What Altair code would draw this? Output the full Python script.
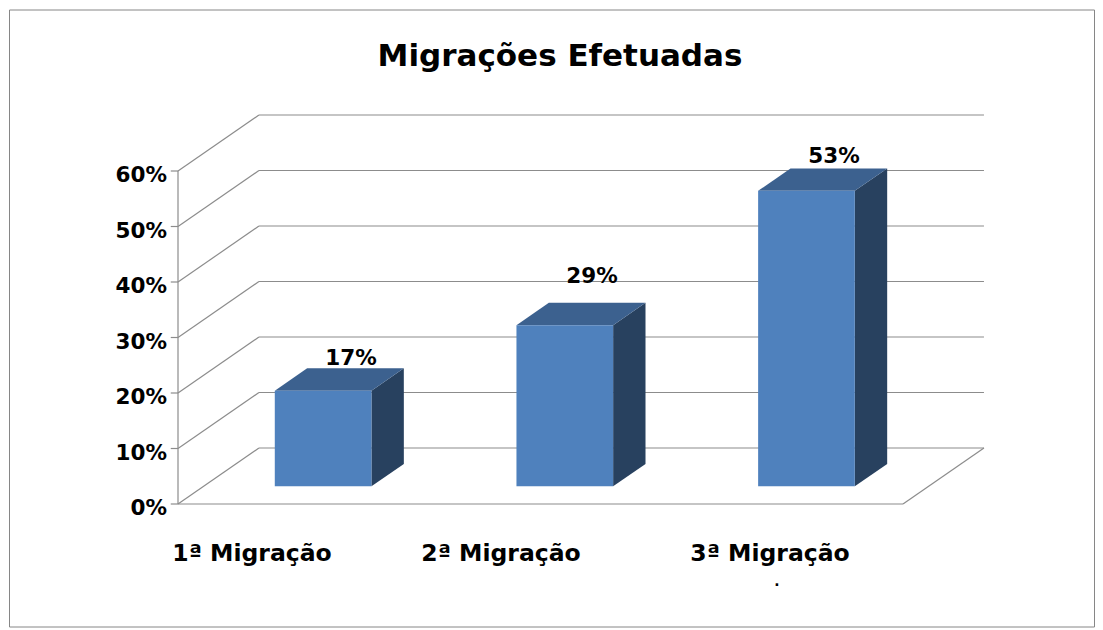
import altair as alt
import pandas as pd

categories = ["1ª Migração", "2ª Migração", "3ª Migração"]
values = [17.4, 29.2, 53.4]
value_labels = ["17%", "29%", "53%"]
ticks = [0, 10, 20, 30, 40, 50, 60]

FONT = "DejaVu Sans"
GRID = "#8c8c8c"
W, H = 1087, 622
PX_X, PX_Y = 241.67, 5.55          # pixels per category / per percent
X_DOM = [-170 / PX_X, 917 / PX_X]
Y_DOM = [-126 / PX_Y, 496 / PX_Y]
DX, DY = 0.335, 10.09              # depth of the 3-D box in data units
B0, B1 = 0.3, 0.7                  # bar depth range

xs = alt.Scale(domain=X_DOM, range=[0, W], nice=False, zero=False)
ys = alt.Scale(domain=Y_DOM, range=[H, 0], nice=False, zero=False)
X = alt.X("x:Q", scale=xs, axis=None)
Y = alt.Y("y:Q", scale=ys, axis=None)

# wire frame
rows = []
g = 0
def seg(a, b, c, d):
    global g
    g += 1
    rows.append(dict(g=g, o=0, x=a, y=b))
    rows.append(dict(g=g, o=1, x=c, y=d))
for t in ticks:
    seg(-0.03, t, 0, t)
    seg(0, t, DX, t + DY)
    seg(DX, t + DY, 3 + DX, t + DY)
seg(0, 0, 0, 60)
seg(0, 0, 3, 0)
seg(3, 0, 3 + DX, DY)
grid = alt.Chart(pd.DataFrame(rows)).mark_line(color=GRID, strokeWidth=1.2).encode(
    x=X, y=Y, detail="g:N", order="o:Q")

# bars
front, top, side = [], [], []
for i, v in enumerate(values):
    l, r = i + 0.3, i + 0.7
    fx0, fx1 = l + B0 * DX, r + B0 * DX
    by, ty = B0 * DY + 0.15, v + B0 * DY
    d = (B1 - B0) * DX
    e = (B1 - B0) * DY
    front.append(dict(x=fx0, x2=fx1, y=by, y2=ty))
    top += [dict(b=i, x=fx0, y=ty, y2=ty),
            dict(b=i, x=fx0 + d, y=ty, y2=ty + e),
            dict(b=i, x=fx1, y=ty, y2=ty + e),
            dict(b=i, x=fx1 + d, y=ty + e, y2=ty + e)]
    side += [dict(b=i, x=fx1, y=by, y2=ty),
             dict(b=i, x=fx1 + d, y=by + e, y2=ty + e)]

front_l = alt.Chart(pd.DataFrame(front)).mark_rect(color="#4f81bd").encode(
    x=X, x2="x2:Q", y=Y, y2="y2:Q")
top_l = alt.Chart(pd.DataFrame(top)).mark_area(color="#3c618f").encode(
    x=X, y=Y, y2="y2:Q", detail="b:N")
side_l = alt.Chart(pd.DataFrame(side)).mark_area(color="#28415f").encode(
    x=X, y=Y, y2="y2:Q", detail="b:N")

# outer frame
frame = alt.Chart(pd.DataFrame([dict(x=X_DOM[0] + 1.5 / PX_X, x2=X_DOM[1] - 0.5 / PX_X,
                                     y=Y_DOM[0] + 3 / PX_Y, y2=Y_DOM[1] - 2 / PX_Y)])).mark_rect(
    fill="white", stroke="#868686", strokeWidth=1).encode(x=X, x2="x2:Q", y=Y, y2="y2:Q")

def text(df, size, align="center"):
    return alt.Chart(pd.DataFrame(df)).mark_text(
        font=FONT, fontWeight="bold", fontSize=size, align=align, baseline="alphabetic", color="black"
    ).encode(x=X, y=Y, text="t:N")

title = text([dict(x=(560 - 178) / PX_X, y=(503 - 65) / PX_Y, t="Migrações Efetuadas")], 31)
tick_l = text([dict(x=-11 / PX_X, y=t - 11 / PX_Y, t=f"{t}%") for t in ticks], 21.5, "right")
cat_l = text([dict(x=(c - 178) / PX_X, y=(503 - 560) / PX_Y, t=n)
              for c, n in zip([252, 501, 770], categories)], 23.5)
val_l = text([dict(x=(c - 178) / PX_X, y=(503 - b) / PX_Y, t=n)
              for c, b, n in zip([351, 592, 834], [364, 282, 162], value_labels)], 21.5)
stray = text([dict(x=(777 - 178) / PX_X, y=(503 - 584.5) / PX_Y, t=".")], 14)

chart = alt.layer(frame, grid, side_l, top_l, front_l, title, tick_l, cat_l, val_l, stray).properties(
    width=W, height=H, padding=0, autosize=alt.AutoSizeParams(type="none"),
    background="white"
).configure_view(stroke=None)

chart.save("out.html", embed_options={"renderer": "svg", "actions": False})
